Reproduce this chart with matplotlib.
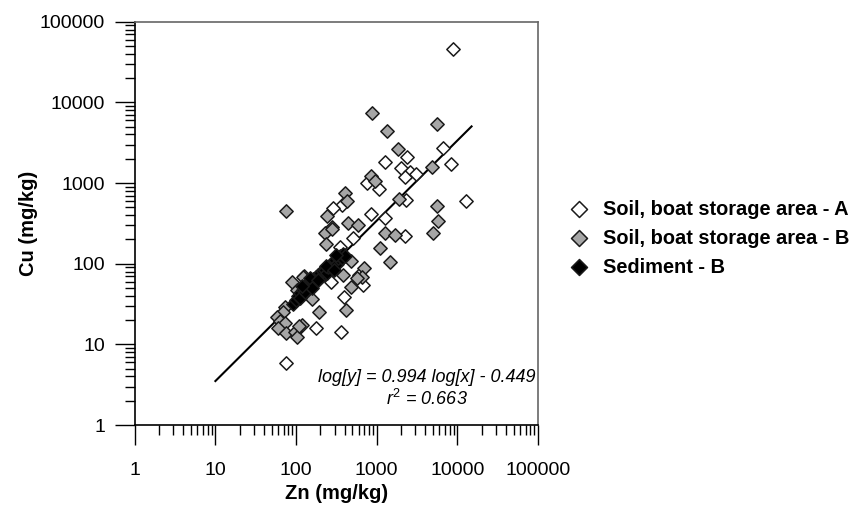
import matplotlib
matplotlib.use("Agg")
import matplotlib.pyplot as plt
import numpy as np
from matplotlib.ticker import LogLocator, NullFormatter

plt.rcParams["font.family"] = ["Liberation Sans", "DejaVu Sans"]
plt.rcParams["mathtext.fontset"] = "custom"
plt.rcParams["mathtext.it"] = "Liberation Sans:italic"
plt.rcParams["mathtext.rm"] = "Liberation Sans"

# Soil, boat storage area - A  (Zn, Cu in mg/kg)
zn_a = [8800, 6560, 8240, 12640, 2346, 1263, 1977, 2578, 2236, 3034, 2300, 1263,
        2240, 750, 1065, 367, 289, 848, 512, 350, 676, 607, 396, 177, 357, 75, 271]
cu_a = [45600, 2685, 1715, 597, 2113, 1833, 1517, 1377, 1172, 1289, 614, 364,
        220, 1007, 840, 532, 484, 408, 206, 162, 54, 72, 39, 15.8, 14.1, 5.9, 60]

# Soil, boat storage area - B
zn_b = [1349, 5525, 1847, 4875, 1900, 5525, 5770, 5050, 1263, 1687, 1457, 1097,
        870, 848, 950, 404, 424, 244, 276, 444, 590, 228, 281, 235, 475, 700,
        650, 573, 475, 415, 194, 156, 117, 125, 378, 76, 88, 123, 102, 73, 69,
        57.5, 63, 73, 60, 76, 97, 102, 110]
cu_b = [4397, 5320, 2608, 1560, 631, 520, 340, 241, 237, 226, 106, 156,
        7280, 1218, 1065, 743, 597, 389, 286, 316, 301, 237, 268, 175, 108, 89,
        69, 66, 52, 26.6, 24.9, 36.4, 17.3, 71, 72, 453, 60, 69, 47, 29, 25.4,
        22, 19.6, 18.2, 15.8, 13.7, 14.3, 12.4, 16.9]

# Sediment - B
zn_s = [92, 100, 106, 112, 122, 129, 137, 145, 153, 162, 171, 176, 187, 198,
        209, 215, 228, 242, 249, 263, 279, 286, 303, 321, 331, 350, 371, 381,
        404, 112, 129, 149, 187, 235, 295, 157, 118, 312]
cu_s = [32, 35, 40, 43, 47, 51, 56, 53, 61, 65, 58, 68, 72, 77,
        70, 81, 83, 77, 91, 96, 88, 105, 111, 99, 117, 124, 117, 132,
        124, 38, 45, 66, 63, 93, 83, 50, 53, 128]

# regression: log[y] = 0.994 log[x] - 0.449
slope, intercept = 0.994, -0.449
fit_x = np.array([10, 15000])
fit_y = 10 ** (slope * np.log10(fit_x) + intercept)

decades = [1, 10, 100, 1000, 10000, 100000]
decade_labels = ["1", "10", "100", "1000", "10000", "100000"]

fig = plt.figure(figsize=(8.49, 5.05), dpi=100)
ax = fig.add_axes([0.1587, 0.1584, 0.475, 0.7986])

ax.plot(fit_x, fit_y, color="black", lw=1.5, zorder=2)

kw = dict(marker="D", s=46, edgecolors="#1a1a1a", linewidths=1.1, zorder=3)
ax.scatter(zn_a, cu_a, facecolors="white", label="Soil, boat storage area - A", **kw)
ax.scatter(zn_b, cu_b, facecolors="#a6a6a6", label="Soil, boat storage area - B", **kw)
ax.scatter(zn_s, cu_s, facecolors="black", label="Sediment - B", **kw)

ax.set_xscale("log")
ax.set_yscale("log")
ax.set_xlim(1, 100000)
ax.set_ylim(1, 100000)
ax.set_xticks(decades, decade_labels)
ax.set_yticks(decades, decade_labels)
ax.xaxis.set_minor_locator(LogLocator(base=10, subs=np.arange(2, 10)))
ax.yaxis.set_minor_locator(LogLocator(base=10, subs=np.arange(2, 10)))
ax.xaxis.set_minor_formatter(NullFormatter())
ax.yaxis.set_minor_formatter(NullFormatter())
ax.tick_params(which="major", direction="out", length=14.5, width=1.0,
               labelsize=14, color="black")
ax.tick_params(axis="x", which="major", pad=12)
ax.tick_params(axis="y", which="major", pad=7)
ax.tick_params(which="minor", direction="out", length=7, width=1.0, color="black")
ax.tick_params(top=False, right=False, which="both")

for side in ["left", "bottom"]:
    ax.spines[side].set_color("black")
    ax.spines[side].set_linewidth(1.2)
for side in ["top", "right"]:
    ax.spines[side].set_color("#666666")
    ax.spines[side].set_linewidth(1.2)

ax.set_xlabel("Zn (mg/kg)", fontsize=14.5, fontweight="bold", labelpad=4)
ax.set_ylabel("Cu (mg/kg)", fontsize=14.5, fontweight="bold", labelpad=1)

ax.text(0.725, 0.117, "log[y] = 0.994 log[x] - 0.449", transform=ax.transAxes,
        fontsize=13, style="italic", ha="center", va="center")
ax.text(0.725, 0.064, "$r^2$ = 0.663", transform=ax.transAxes,
        fontsize=13, style="italic", ha="center", va="center")

fig.legend(loc="center left", bbox_to_anchor=(0.649, 0.5287), frameon=False,
           prop={"size": 14.4, "weight": "bold"}, handlelength=1.0,
           handletextpad=0.68, labelspacing=0.5, borderpad=0.4, markerscale=1.2)

fig.savefig("out.png", dpi=100)
